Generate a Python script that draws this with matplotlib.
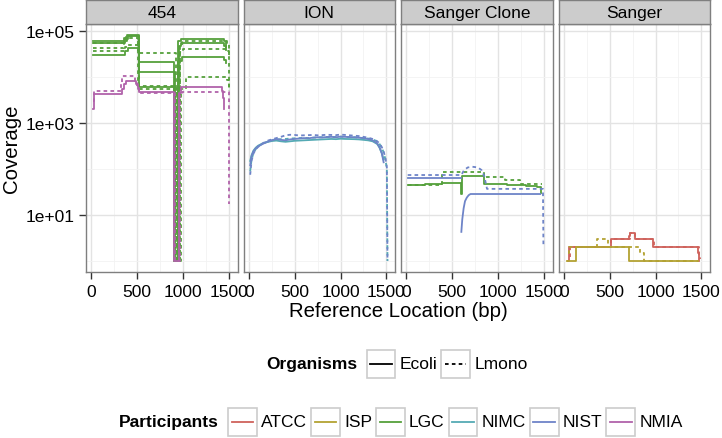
import matplotlib
matplotlib.use('Agg')
import matplotlib.pyplot as plt
from matplotlib.ticker import FixedLocator, NullFormatter
from matplotlib.offsetbox import TextArea, DrawingArea, HPacker, AnchoredOffsetbox
from matplotlib.patches import Rectangle
from matplotlib.lines import Line2D

plt.rcParams['font.family'] = ['Liberation Sans', 'DejaVu Sans']

# facets / legend entries
panels = ['454', 'ION', 'Sanger Clone', 'Sanger']
participants = ['ATCC', 'ISP', 'LGC', 'NIMC', 'NIST', 'NMIA']
part_colors = ['#CF625C', '#B3A233', '#55A03C', '#55AAB4', '#6E84C8', '#B162AA']
organisms = ['Ecoli', 'Lmono']
org_styles = ['-', (0, (2, 1.8))]
x_ticks = [0, 500, 1000, 1500]
x_minor = [250, 750, 1250]
y_ticks = [1e1, 1e3, 1e5]
y_minor = [1e0, 1e2, 1e4]
y_tick_labels = ['1e+01', '1e+03', '1e+05']

# ---- 454 (step traces, value holds from x[i] to x[i+1])
lgc_e1_454_x = [15, 360, 385, 515, 905, 950, 975, 1445, 1465]
lgc_e1_454_y = [62000, 72000, 83000, 21600, 1, 60000, 67000, 60000, 45000]
lgc_e2_454_x = [15, 365, 395, 515, 912, 958, 980, 1448, 1468]
lgc_e2_454_y = [54000, 66000, 76000, 13100, 1, 48000, 54000, 48000, 38000]
lgc_e3_454_x = [15, 370, 400, 520, 900, 945, 985, 1450, 1470]
lgc_e3_454_y = [30600, 36000, 42000, 5960, 1, 22000, 26800, 24000, 20000]
lgc_l1_454_x = [15, 355, 380, 510, 918, 965, 990, 1480, 1500]
lgc_l1_454_y = [42600, 60000, 78000, 32700, 1, 50000, 59500, 52000, 30000]
lgc_l2_454_x = [15, 360, 390, 512, 925, 970, 1000, 1485, 1505]
lgc_l2_454_y = [55000, 62000, 70000, 6370, 1, 35000, 40600, 36000, 6000]
lgc_l3_454_x = [15, 368, 398, 518, 930, 975, 1035, 1480, 1500]
lgc_l3_454_y = [36000, 44000, 50000, 5500, 1, 5500, 9850, 8500, 5000]
nmia_e_454_x = [15, 25, 335, 355, 375, 395, 490, 505, 525, 905, 955, 975, 1425, 1440, 1452]
nmia_e_454_y = [2000, 4270, 5500, 7000, 8300, 8300, 7000, 5500, 4650, 1, 4500, 5960, 5000, 3500, 2000]
nmia_l_454_x = [15, 25, 320, 340, 480, 500, 520, 915, 965, 990, 1480, 1500]
nmia_l_454_y = [3000, 5040, 7500, 10700, 8000, 6000, 4400, 1, 4000, 4650, 4650, 17]

# ---- ION (smooth traces)
ion_e_x = [15, 30, 50, 75, 100, 150, 200, 250, 300, 350, 400, 450, 500, 550, 600, 650, 700,
           750, 800, 850, 900, 950, 1000, 1050, 1100, 1150, 1200, 1250, 1300, 1350, 1400,
           1425, 1450, 1470]
nist_e_ion_y = [120, 190, 240, 280, 310, 350, 390, 420, 450, 430, 420, 440, 450, 460, 470, 465,
                480, 490, 485, 495, 500, 490, 505, 500, 495, 490, 480, 470, 450, 420, 360,
                300, 220, 140]
nimc_e_ion_y = [150, 200, 250, 290, 320, 360, 385, 405, 415, 400, 390, 400, 410, 415, 420, 425,
                430, 435, 440, 445, 450, 445, 455, 450, 448, 445, 440, 430, 420, 400, 350,
                290, 220, 160]
ion_l_x = [15, 30, 50, 75, 100, 150, 200, 250, 300, 350, 400, 450, 500, 550, 600, 650, 700,
           750, 800, 850, 900, 950, 1000, 1050, 1100, 1150, 1200, 1250, 1300, 1350, 1400,
           1425, 1450, 1470, 1490, 1505, 1512]
nist_l_ion_y = [75, 150, 215, 265, 300, 360, 410, 440, 470, 500, 540, 555, 550, 535, 540, 545,
                550, 540, 545, 555, 550, 545, 560, 550, 540, 530, 520, 500, 480, 450, 400,
                360, 300, 240, 170, 110, 1]
nimc_l_ion_y = [90, 160, 220, 270, 310, 355, 390, 420, 440, 445, 450, 460, 465, 470, 475, 470,
                480, 485, 490, 495, 500, 495, 505, 500, 495, 490, 480, 470, 460, 440, 400,
                350, 290, 230, 160, 100, 1]

# ---- Sanger Clone
lgc_e_sc_x = [15, 200, 385, 595, 605, 845, 1100, 1300, 1420, 1470]
lgc_e_sc_y = [45, 47, 50, 29, 72, 47, 45, 43, 40, 30]
lgc_l_sc_x = [15, 385, 845, 1080, 1240, 1480]
lgc_l_sc_y = [44, 85, 66, 57, 47, 47]
nist_e1_sc_x = [15, 600]
nist_e1_sc_y = [63, 63]
nist_e2_sc_x = [600, 610, 625, 640, 660, 680, 700, 1460]
nist_e2_sc_y = [4.3, 8, 14, 20, 24, 27, 28.6, 28.6]
nist_l_sc_x = [15, 600, 630, 670, 720, 780, 820, 850, 880, 1490, 1495]
nist_l_sc_y = [74, 74, 95, 108, 112, 108, 95, 70, 37, 37, 2]

# ---- Sanger
atcc_e_sg_x = [51, 53, 516, 716, 725, 778, 970, 1465, 1478]
atcc_e_sg_y = [1, 2, 3, 3.5, 4, 3, 2, 1.5, 1]
atcc_l_sg_x = [62, 70, 510, 720, 775, 985, 1470, 1482]
atcc_l_sg_y = [1.2, 2, 3, 4, 3, 2, 1.3, 1.1]
isp_e_sg_x = [35, 134, 716, 1465]
isp_e_sg_y = [1, 2, 1, 1]
isp_l_sg_x = [45, 60, 360, 480, 830, 870, 1465]
isp_l_sg_y = [1.5, 2, 3, 2, 1.5, 1, 1]

# (panel, participant, organism, x, y, stepped)
traces = [
    ('454', 'LGC', 'Ecoli', lgc_e1_454_x, lgc_e1_454_y, True),
    ('454', 'LGC', 'Ecoli', lgc_e2_454_x, lgc_e2_454_y, True),
    ('454', 'LGC', 'Ecoli', lgc_e3_454_x, lgc_e3_454_y, True),
    ('454', 'LGC', 'Lmono', lgc_l1_454_x, lgc_l1_454_y, True),
    ('454', 'LGC', 'Lmono', lgc_l2_454_x, lgc_l2_454_y, True),
    ('454', 'LGC', 'Lmono', lgc_l3_454_x, lgc_l3_454_y, True),
    ('454', 'NMIA', 'Ecoli', nmia_e_454_x, nmia_e_454_y, True),
    ('454', 'NMIA', 'Lmono', nmia_l_454_x, nmia_l_454_y, True),
    ('ION', 'NIMC', 'Ecoli', ion_e_x, nimc_e_ion_y, False),
    ('ION', 'NIMC', 'Lmono', ion_l_x, nimc_l_ion_y, False),
    ('ION', 'NIST', 'Ecoli', ion_e_x, nist_e_ion_y, False),
    ('ION', 'NIST', 'Lmono', ion_l_x, nist_l_ion_y, False),
    ('Sanger Clone', 'LGC', 'Ecoli', lgc_e_sc_x, lgc_e_sc_y, True),
    ('Sanger Clone', 'LGC', 'Lmono', lgc_l_sc_x, lgc_l_sc_y, True),
    ('Sanger Clone', 'NIST', 'Ecoli', nist_e1_sc_x, nist_e1_sc_y, True),
    ('Sanger Clone', 'NIST', 'Ecoli', nist_e2_sc_x, nist_e2_sc_y, False),
    ('Sanger Clone', 'NIST', 'Lmono', nist_l_sc_x, nist_l_sc_y, False),
    ('Sanger', 'ATCC', 'Ecoli', atcc_e_sg_x, atcc_e_sg_y, True),
    ('Sanger', 'ATCC', 'Lmono', atcc_l_sg_x, atcc_l_sg_y, True),
    ('Sanger', 'ISP', 'Ecoli', isp_e_sg_x, isp_e_sg_y, True),
    ('Sanger', 'ISP', 'Lmono', isp_l_sg_x, isp_l_sg_y, True),
]

# ---- layout (pixels)
W, H = 722, 439
panel_left = [86, 243.5, 401, 558.5]
panel_w = 151.5
panel_top, panel_bot = 25, 273
strip_top = 1
LW = 1.3
FS = 12.5
grey50 = '#7F7F7F'

fig = plt.figure(figsize=(W / 100, H / 100), dpi=100)
fig.patch.set_facecolor('white')

col = dict(zip(participants, part_colors))
sty = dict(zip(organisms, org_styles))

for i, name in enumerate(panels):
    l = panel_left[i]
    ax = fig.add_axes([l / W, 1 - panel_bot / H, panel_w / W, (panel_bot - panel_top) / H])
    ax.set_yscale('log')
    ax.set_xlim(-58, 1594)
    ax.set_ylim(0.577, 141900)
    ax.xaxis.set_major_locator(FixedLocator(x_ticks))
    ax.xaxis.set_minor_locator(FixedLocator(x_minor))
    ax.yaxis.set_major_locator(FixedLocator(y_ticks))
    ax.yaxis.set_minor_locator(FixedLocator(y_minor))
    ax.yaxis.set_minor_formatter(NullFormatter())
    ax.set_xticklabels([str(t) for t in x_ticks])
    ax.set_yticklabels(y_tick_labels)
    ax.grid(which='major', color='#E3E3E3', lw=1.0)
    ax.grid(which='minor', color='#F2F2F2', lw=0.6)
    ax.set_axisbelow(True)
    for s in ax.spines.values():
        s.set_color(grey50)
        s.set_linewidth(1.0)
    ax.tick_params(which='major', length=5, width=1.0, color='#333333',
                   labelsize=FS, labelcolor='black', pad=3.5)
    ax.tick_params(which='minor', length=0)
    if i > 0:
        ax.tick_params(axis='y', left=False, labelleft=False)

    for p, part, org, xs, ys, stepped in traces:
        if p != name:
            continue
        ax.plot(xs, ys, color=col[part], linestyle=sty[org], lw=LW,
                drawstyle='steps-post' if stepped else 'default')

    sax = fig.add_axes([l / W, 1 - panel_top / H, panel_w / W, (panel_top - strip_top) / H])
    sax.set_facecolor('#CCCCCC')
    sax.set_xticks([])
    sax.set_yticks([])
    for s in sax.spines.values():
        s.set_color(grey50)
        s.set_linewidth(1.0)
    sax.text(0.5, 0.47, name, ha='center', va='center', fontsize=FS, transform=sax.transAxes)

fig.text(12 / W, 1 - 149 / H, 'Coverage', rotation=90, ha='center', va='center', fontsize=14.7)
fig.text(398 / W, 1 - 312 / H, 'Reference Location (bp)', ha='center', va='center', fontsize=14.7)

# ---- legends
KEY = 21.6  # points


def key_box(color, ls):
    da = DrawingArea(KEY, KEY, 0, 0)
    da.add_artist(Rectangle((0.5, 0.5), KEY - 1, KEY - 1, fc='white', ec='#CCCCCC', lw=1.2))
    da.add_artist(Line2D([3, KEY - 3], [KEY / 2, KEY / 2], color=color, lw=LW, linestyle=ls))
    return da


def legend_row(title, labels, colors, styles, cx, cy):
    items = []
    for lab, c, s in zip(labels, colors, styles):
        items.append(key_box(c, s))
        items.append(TextArea(lab, textprops=dict(fontsize=FS)))
    body = HPacker(children=items, align='center', pad=0, sep=2.5)
    t = TextArea(title, textprops=dict(fontsize=FS, fontweight='bold'))
    row = HPacker(children=[t, body], align='center', pad=0, sep=6)
    box = AnchoredOffsetbox(loc='center', child=row, pad=0, borderpad=0, frameon=False,
                            bbox_to_anchor=(cx / W, 1 - cy / H),
                            bbox_transform=fig.transFigure)
    fig.add_artist(box)


legend_row('Organisms', organisms, ['black', 'black'], org_styles, 397, 365)
legend_row('Participants', participants, part_colors, ['-'] * 6, 401, 423)

fig.savefig('out.png', dpi=100, facecolor='white')
